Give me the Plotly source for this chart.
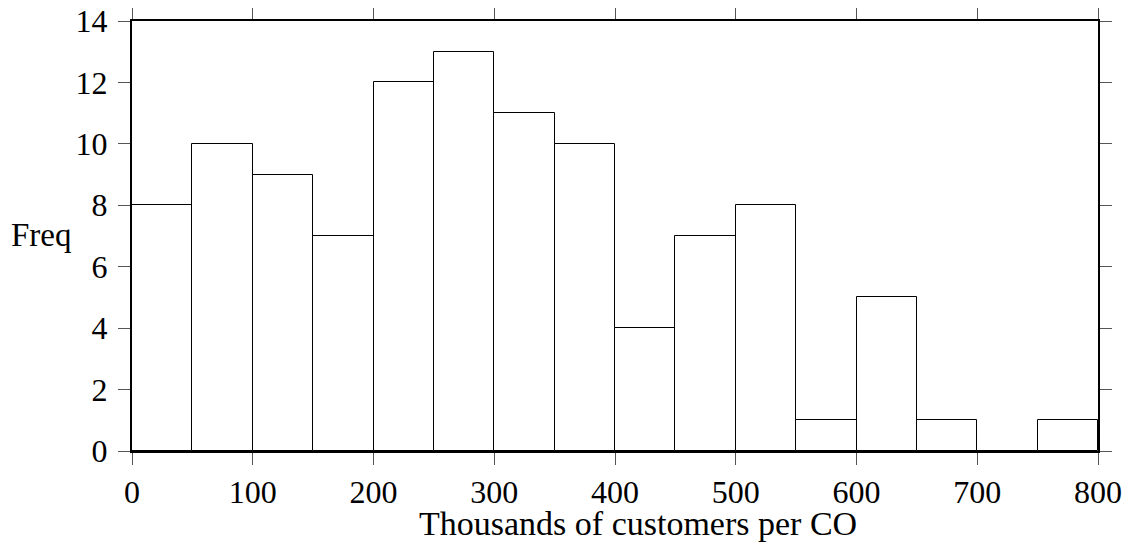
import plotly.graph_objects as go

bin_starts = [0, 50, 100, 150, 200, 250, 300, 350, 400, 450, 500, 550, 600, 650, 700, 750]
bin_width = 50
counts = [8, 10, 9, 7, 12, 13, 11, 10, 4, 7, 8, 1, 5, 1, 0, 1]
x_ticks = [0, 100, 200, 300, 400, 500, 600, 700, 800]
y_ticks = [0, 2, 4, 6, 8, 10, 12, 14]

FONT = "Liberation Serif"

fig = go.Figure()
fig.add_trace(go.Bar(
    x=[s + bin_width / 2 for s in bin_starts],
    y=counts,
    width=bin_width,
    marker=dict(color="white", line=dict(color="black", width=1)),
    showlegend=False,
))

axis_common = dict(
    showline=True, linecolor="black", linewidth=2, mirror="ticks",
    ticks="outside", ticklen=12, tickwidth=1, tickcolor="#555",
    showgrid=False, zeroline=False, automargin=False,
    ticklabeloverflow="allow",
    tickfont=dict(family=FONT, size=32, color="black"),
)

fig.update_layout(
    template="none",
    width=1127, height=537,
    margin=dict(l=124, r=37, t=13, b=94),
    paper_bgcolor="white", plot_bgcolor="white",
    bargap=0,
    xaxis=dict(range=[0, 800], tickvals=x_ticks, **axis_common),
    yaxis=dict(range=[0, 14], tickvals=y_ticks, ticklabelstandoff=4, **axis_common),
    font=dict(family=FONT, color="black"),
    annotations=[
        dict(text="Freq", xref="paper", yref="paper", x=-0.094, y=0.502,
             xanchor="center", yanchor="middle", showarrow=False,
             font=dict(family=FONT, size=33, color="black")),
        dict(text="Thousands of customers per CO", xref="paper", yref="paper",
             x=0.524, y=-0.168, xanchor="center", yanchor="middle", showarrow=False,
             font=dict(family=FONT, size=34, color="black")),
    ],
)

fig.write_html("out.html")
